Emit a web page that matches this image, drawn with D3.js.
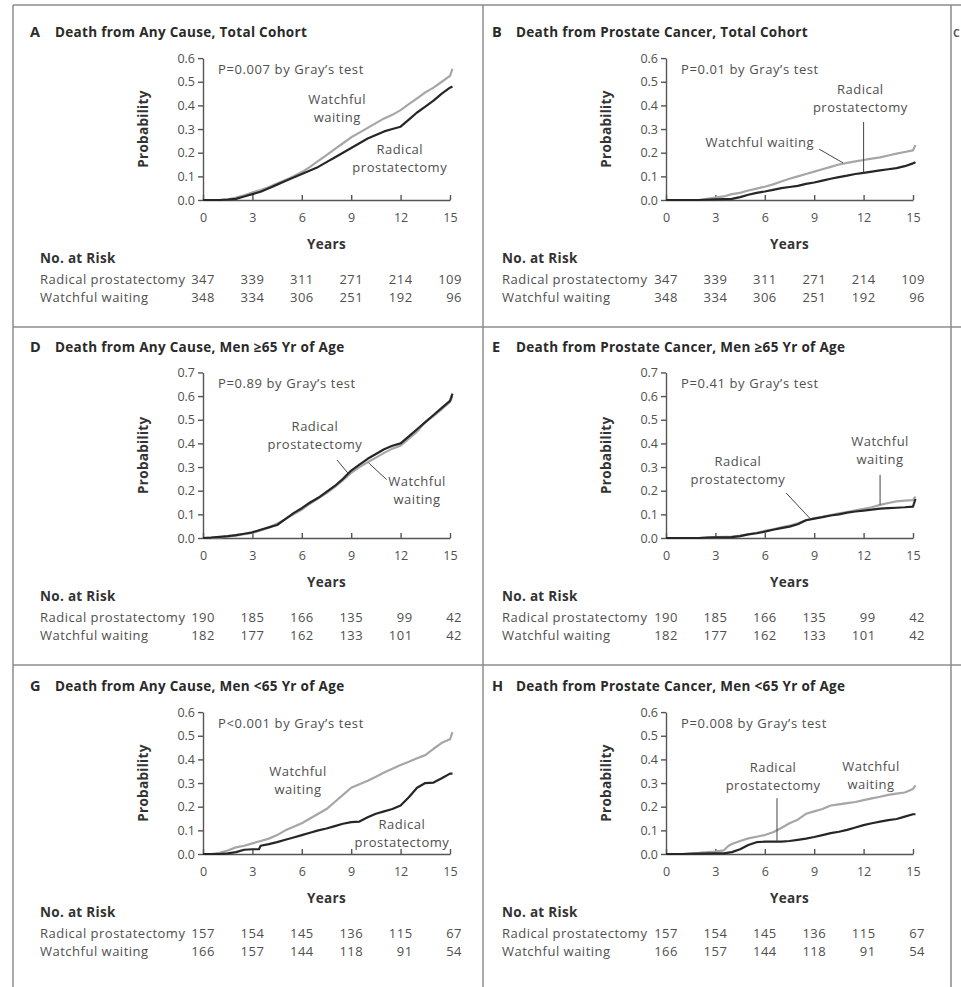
<!DOCTYPE html>
<html>
<head>
<meta charset="utf-8">
<script src="https://cdn.jsdelivr.net/npm/d3@7"></script>
<style>
  body { margin: 0; background: #fff; }
  svg { display: block; font-family: "Open Sans", "DejaVu Sans", sans-serif; }
</style>
</head>
<body>
<svg id="chart" width="961" height="987"></svg>
<script>
// ---- Data: cumulative incidence [years, probability] per group ----
const yearTicks = [0, 3, 6, 9, 12, 15];

const anyTotalWW = [[0,0],[1,0],[1.5,0.003],[2,0.01],[2.5,0.02],[3,0.032],[3.5,0.042],[4,0.055],[4.5,0.07],[5,0.085],[5.5,0.1],[6,0.118],[6.5,0.14],[7,0.165],[7.5,0.19],[8,0.215],[8.5,0.24],[9,0.265],[9.5,0.285],[10,0.305],[10.5,0.325],[11,0.345],[11.5,0.36],[12,0.38],[12.5,0.405],[13,0.43],[13.5,0.455],[14,0.475],[14.5,0.5],[15,0.525],[15.15,0.555]];
const anyTotalRP = [[0,0],[1,0],[1.5,0.002],[2,0.005],[2.5,0.015],[3,0.025],[3.5,0.035],[4,0.05],[4.5,0.065],[5,0.08],[5.5,0.095],[6,0.11],[6.5,0.125],[7,0.14],[7.5,0.16],[8,0.18],[8.5,0.2],[9,0.22],[9.5,0.24],[10,0.26],[10.5,0.275],[11,0.29],[11.5,0.3],[12,0.31],[12.5,0.34],[13,0.37],[13.5,0.395],[14,0.42],[14.5,0.45],[15,0.475],[15.15,0.48]];

const pcTotalWW = [[0,0],[2,0],[2.5,0.005],[3,0.01],[3.5,0.015],[4,0.025],[4.5,0.03],[5,0.04],[5.5,0.048],[6,0.056],[6.5,0.066],[7,0.078],[7.5,0.09],[8,0.1],[8.5,0.11],[9,0.12],[9.5,0.13],[10,0.14],[10.5,0.15],[11,0.157],[11.5,0.163],[12,0.169],[12.5,0.175],[13,0.18],[13.5,0.188],[14,0.196],[14.5,0.203],[15,0.21],[15.15,0.232]];
const pcTotalRP = [[0,0],[2,0],[3,0.003],[4,0.005],[4.5,0.012],[5,0.022],[5.5,0.03],[6,0.036],[6.5,0.043],[7,0.05],[7.5,0.055],[8,0.06],[8.5,0.068],[9,0.074],[9.5,0.082],[10,0.09],[10.5,0.097],[11,0.103],[11.5,0.11],[12,0.115],[12.5,0.12],[13,0.125],[13.5,0.13],[14,0.135],[14.5,0.143],[15,0.155],[15.15,0.16]];

const anyOldWW = [[0,0],[1,0.003],[1.5,0.006],[2,0.01],[2.5,0.016],[3,0.022],[3.5,0.032],[4,0.045],[4.5,0.06],[5,0.08],[5.5,0.1],[6,0.12],[6.5,0.145],[7,0.168],[7.5,0.19],[8,0.215],[8.5,0.245],[9,0.275],[9.5,0.3],[10,0.32],[10.5,0.34],[11,0.36],[11.5,0.378],[12,0.39],[12.5,0.42],[13,0.45],[13.5,0.49],[14,0.515],[14.5,0.545],[15,0.575],[15.15,0.6]];
const anyOldRP = [[0,0],[0.5,0.002],[1,0.005],[1.5,0.008],[2,0.012],[2.5,0.018],[3,0.024],[3.5,0.035],[4,0.045],[4.5,0.055],[5,0.08],[5.5,0.105],[6,0.126],[6.5,0.15],[7,0.17],[7.5,0.195],[8,0.22],[8.5,0.25],[9,0.285],[9.5,0.31],[10,0.335],[10.5,0.355],[11,0.375],[11.5,0.39],[12,0.4],[12.5,0.43],[13,0.46],[13.5,0.49],[14,0.52],[14.5,0.55],[15,0.58],[15.15,0.61]];

const pcOldWW = [[0,0],[2,0],[3,0.004],[4,0.006],[4.5,0.01],[5,0.016],[5.5,0.022],[6,0.03],[6.5,0.037],[7,0.045],[7.5,0.052],[8,0.062],[8.5,0.075],[9,0.083],[9.5,0.09],[10,0.097],[10.5,0.104],[11,0.11],[11.5,0.117],[12,0.123],[12.5,0.13],[13,0.14],[13.5,0.148],[14,0.155],[14.5,0.158],[15,0.16],[15.15,0.175]];
const pcOldRP = [[0,0],[2,0],[2.5,0.002],[3,0.003],[4,0.004],[4.5,0.008],[5,0.015],[5.5,0.02],[6,0.027],[6.5,0.035],[7,0.042],[7.5,0.048],[8,0.058],[8.5,0.075],[9,0.082],[9.5,0.088],[10,0.095],[10.5,0.1],[11,0.107],[11.5,0.112],[12,0.116],[12.5,0.12],[13,0.124],[13.5,0.126],[14,0.128],[14.5,0.13],[15,0.133],[15.15,0.165]];

const anyYoungWW = [[0,0],[0.5,0],[1,0.005],[1.5,0.015],[2,0.028],[2.5,0.035],[3,0.045],[3.5,0.055],[4,0.065],[4.5,0.08],[5,0.1],[5.5,0.115],[6,0.13],[6.5,0.15],[7,0.17],[7.5,0.19],[8,0.22],[8.5,0.25],[9,0.28],[9.5,0.295],[10,0.31],[10.5,0.327],[11,0.345],[11.5,0.36],[12,0.376],[12.5,0.39],[13,0.405],[13.5,0.418],[14,0.445],[14.5,0.47],[15,0.485],[15.15,0.515]];
const anyYoungRP = [[0,0],[1,0],[1.5,0.003],[2,0.008],[2.5,0.018],[3,0.02],[3.4,0.02],[3.5,0.035],[4,0.042],[4.5,0.05],[5,0.06],[5.5,0.07],[6,0.08],[6.5,0.09],[7,0.1],[7.5,0.108],[8,0.118],[8.5,0.128],[9,0.135],[9.5,0.137],[10,0.155],[10.5,0.17],[11,0.18],[11.5,0.19],[12,0.205],[12.5,0.24],[13,0.28],[13.5,0.3],[14,0.302],[14.5,0.32],[15,0.34],[15.15,0.34]];

const pcYoungWW = [[0,0],[1,0],[1.5,0.003],[2,0.005],[2.5,0.008],[3,0.01],[3.5,0.015],[3.8,0.035],[4,0.042],[4.5,0.055],[5,0.066],[5.5,0.073],[6,0.08],[6.5,0.092],[7,0.11],[7.5,0.13],[8,0.145],[8.5,0.17],[9,0.18],[9.5,0.19],[10,0.205],[10.5,0.21],[11,0.215],[11.5,0.22],[12,0.228],[12.5,0.235],[13,0.242],[13.5,0.25],[14,0.255],[14.5,0.26],[15,0.275],[15.15,0.29]];
const pcYoungRP = [[0,0],[1,0],[2,0.002],[3,0.003],[3.5,0.003],[4,0.008],[4.5,0.02],[5,0.038],[5.5,0.05],[6,0.052],[6.5,0.052],[7,0.052],[7.5,0.055],[8,0.06],[8.5,0.065],[9,0.072],[9.5,0.08],[10,0.088],[10.5,0.094],[11,0.102],[11.5,0.112],[12,0.122],[12.5,0.13],[13,0.137],[13.5,0.143],[14,0.148],[14.5,0.158],[15,0.168],[15.15,0.168]];

// ---- Numbers at risk at 0, 3, 6, 9, 12, 15 years ----
const riskTotalRP = [347, 339, 311, 271, 214, 109];
const riskTotalWW = [348, 334, 306, 251, 192, 96];
const riskOldRP   = [190, 185, 166, 135, 99, 42];
const riskOldWW   = [182, 177, 162, 133, 101, 42];
const riskYoungRP = [157, 154, 145, 136, 115, 67];
const riskYoungWW = [166, 157, 144, 118, 91, 54];

// ---- Panel text ----
const panelLetters = ["A", "B", "D", "E", "G", "H"];
const panelTitles = [
  "Death from Any Cause, Total Cohort",
  "Death from Prostate Cancer, Total Cohort",
  "Death from Any Cause, Men \u226565 Yr of Age",
  "Death from Prostate Cancer, Men \u226565 Yr of Age",
  "Death from Any Cause, Men <65 Yr of Age",
  "Death from Prostate Cancer, Men <65 Yr of Age"
];
const pTexts = [
  "P=0.007 by Gray\u2019s test",
  "P=0.01 by Gray\u2019s test",
  "P=0.89 by Gray\u2019s test",
  "P=0.41 by Gray\u2019s test",
  "P<0.001 by Gray\u2019s test",
  "P=0.008 by Gray\u2019s test"
];
const yMaxes = [0.6, 0.6, 0.7, 0.7, 0.6, 0.6];
const groupNames = ["Radical prostatectomy", "Watchful waiting"];

// ---- Layout ----
const colX = [203, 666];          // x of year 0
const rowY = [200, 538, 854];     // y of probability 0
const plotW = 247;
const pxPerUnit = 236.5;
const GRAY = "#a6a6a6", DARK = "#262626", TEXT = "#4f4f4f", FRAME = "#8c8c8c";
const BODY = { size: 13, spacing: 0.5 };

// Curve labels and leader lines, placed in data coordinates
const annotations = [
  { labels: [{ lines: ["Watchful", "waiting"], t: 8.15, p: 0.405 },
             { lines: ["Radical", "prostatectomy"], t: 11.95, p: 0.194 }],
    leaders: [] },
  { labels: [{ lines: ["Watchful waiting"], t: 5.7, p: 0.224 },
             { lines: ["Radical", "prostatectomy"], t: 11.8, p: 0.447 }],
    leaders: [[[9.3, 0.215], [10.75, 0.157]], [[12, 0.33], [12, 0.115]]] },
  { labels: [{ lines: ["Radical", "prostatectomy"], t: 6.8, p: 0.454 },
             { lines: ["Watchful", "waiting"], t: 13.0, p: 0.22 }],
    leaders: [[[8.14, 0.33], [8.8, 0.274]], [[10.05, 0.318], [11.15, 0.247]]] },
  { labels: [{ lines: ["Radical", "prostatectomy"], t: 4.37, p: 0.305 },
             { lines: ["Watchful", "waiting"], t: 13.0, p: 0.39 }],
    leaders: [[[7.3, 0.19], [8.74, 0.083]], [[13.0, 0.267], [13.0, 0.14]]] },
  { labels: [{ lines: ["Watchful", "waiting"], t: 5.77, p: 0.329 },
             { lines: ["Radical", "prostatectomy"], t: 12.08, p: 0.105 }],
    leaders: [] },
  { labels: [{ lines: ["Radical", "prostatectomy"], t: 6.5, p: 0.346 },
             { lines: ["Watchful", "waiting"], t: 12.45, p: 0.35 }],
    leaders: [[[6.74, 0.236], [6.74, 0.052]]] }
];

const seriesWW = [anyTotalWW, pcTotalWW, anyOldWW, pcOldWW, anyYoungWW, pcYoungWW];
const seriesRP = [anyTotalRP, pcTotalRP, anyOldRP, pcOldRP, anyYoungRP, pcYoungRP];
const risksRP = [riskTotalRP, riskTotalRP, riskOldRP, riskOldRP, riskYoungRP, riskYoungRP];
const risksWW = [riskTotalWW, riskTotalWW, riskOldWW, riskOldWW, riskYoungWW, riskYoungWW];

const svg = d3.select("#chart");

// ---- Panel frames ----
const frame = svg.append("g").attr("stroke", FRAME).attr("stroke-width", 1.5).attr("fill", "none");
frame.append("line").attr("x1", 13).attr("x2", 961).attr("y1", 5).attr("y2", 5);
frame.append("line").attr("x1", 13).attr("x2", 961).attr("y1", 327).attr("y2", 327);
frame.append("line").attr("x1", 13).attr("x2", 961).attr("y1", 665).attr("y2", 665);
frame.append("line").attr("x1", 13).attr("x2", 13).attr("y1", 5).attr("y2", 987);
frame.append("line").attr("x1", 483).attr("x2", 483).attr("y1", 5).attr("y2", 987);
frame.append("line").attr("x1", 951).attr("x2", 951).attr("y1", 5).attr("y2", 987);

// Letter of the neighbouring column at the page edge
svg.append("text").attr("x", 953).attr("y", 37).attr("font-size", 10.5).attr("font-weight", 700)
  .attr("fill", "#555").text("C");

const titleY = [37, 352, 691];
const titleX = [[30, 55], [492, 516]];

panelLetters.forEach((letter, i) => {
  const col = i % 2, row = Math.floor(i / 2);
  const x0 = colX[col], y0 = rowY[row], yMax = yMaxes[i];
  const x = d3.scaleLinear().domain([0, 15]).range([x0, x0 + plotW]);
  const y = d3.scaleLinear().domain([0, yMax]).range([y0, y0 - yMax * pxPerUnit]);
  const g = svg.append("g");

  // Title
  g.append("text").attr("x", titleX[col][0]).attr("y", titleY[row]).attr("font-size", 14.5)
    .attr("font-weight", 700).attr("fill", "#2a2a2a").text(letter);
  g.append("text").attr("x", titleX[col][1]).attr("y", titleY[row]).attr("font-size", 13.5)
    .attr("letter-spacing", 0.3).attr("font-weight", 700).attr("fill", "#2a2a2a").text(panelTitles[i]);

  // Y axis
  const yAxis = d3.axisLeft(y).tickValues(d3.range(0, yMax + 0.001, 0.1))
    .tickFormat(d3.format(".1f")).tickSize(5).tickPadding(3).tickSizeOuter(0);
  const ya = g.append("g").attr("transform", `translate(${x0},0)`).call(yAxis);
  // X axis, ticks pointing up into the plot
  const xAxis = d3.axisBottom(x).tickValues(yearTicks).tickSize(-5).tickPadding(13).tickSizeOuter(0);
  const xa = g.append("g").attr("transform", `translate(0,${y0})`).call(xAxis);
  [ya, xa].forEach(a => {
    a.selectAll("path.domain").attr("stroke", "#555").attr("stroke-width", 1.4);
    a.selectAll(".tick line").attr("stroke", "#555").attr("stroke-width", 1.4);
    a.selectAll(".tick text").attr("fill", TEXT).attr("font-size", 12.5)
      .attr("font-family", '"Open Sans", sans-serif');
  });

  // Axis titles
  g.append("text").attr("transform", `translate(${x0 - 55},${y(yMax / 2)}) rotate(-90)`)
    .attr("text-anchor", "middle").attr("font-size", 13.5).attr("letter-spacing", 0.3)
    .attr("font-weight", 700).attr("fill", "#333").text("Probability");
  g.append("text").attr("x", x0 + plotW / 2).attr("y", y0 + 49).attr("text-anchor", "middle")
    .attr("font-size", 13.5).attr("letter-spacing", 0.3).attr("font-weight", 700)
    .attr("fill", "#333").text("Years");

  // P value
  g.append("text").attr("x", x0 + 15).attr("y", y(yMax) + 16).attr("font-size", BODY.size)
    .attr("letter-spacing", 0.6).attr("fill", TEXT).text(pTexts[i]);

  // Curves
  const line = d3.line().x(d => x(d[0])).y(d => y(d[1]));
  g.append("path").datum(seriesWW[i]).attr("d", line).attr("fill", "none")
    .attr("stroke", GRAY).attr("stroke-width", 2.2).attr("stroke-linejoin", "round");
  g.append("path").datum(seriesRP[i]).attr("d", line).attr("fill", "none")
    .attr("stroke", DARK).attr("stroke-width", 2.2).attr("stroke-linejoin", "round");

  // Curve labels and leaders
  const ann = annotations[i];
  ann.leaders.forEach(seg => {
    g.append("line").attr("x1", x(seg[0][0])).attr("y1", y(seg[0][1]))
      .attr("x2", x(seg[1][0])).attr("y2", y(seg[1][1]))
      .attr("stroke", "#444").attr("stroke-width", 1);
  });
  ann.labels.forEach(lb => {
    const t = g.append("text").attr("x", x(lb.t)).attr("y", y(lb.p))
      .attr("text-anchor", "middle").attr("font-size", BODY.size)
      .attr("letter-spacing", BODY.spacing).attr("fill", TEXT);
    lb.lines.forEach((s, k) => t.append("tspan").attr("x", x(lb.t)).attr("dy", k ? 18 : 0).text(s));
  });

  // Numbers at risk
  const labelX = col === 0 ? 40 : 502;
  g.append("text").attr("x", labelX).attr("y", y0 + 63).attr("font-size", 13.5)
    .attr("letter-spacing", 0.3).attr("font-weight", 700).attr("fill", "#333").text("No. at Risk");
  [risksRP[i], risksWW[i]].forEach((vals, k) => {
    const by = y0 + 84 + k * 18;
    g.append("text").attr("x", labelX).attr("y", by).attr("font-size", BODY.size)
      .attr("letter-spacing", BODY.spacing).attr("fill", TEXT).text(groupNames[k]);
    g.selectAll(null).data(vals).enter().append("text")
      .attr("x", (d, j) => x(yearTicks[j]) + 12).attr("y", by)
      .attr("text-anchor", "end").attr("font-size", BODY.size)
      .attr("letter-spacing", BODY.spacing).attr("fill", TEXT).text(d => d);
  });
});
</script>
</body>
</html>
